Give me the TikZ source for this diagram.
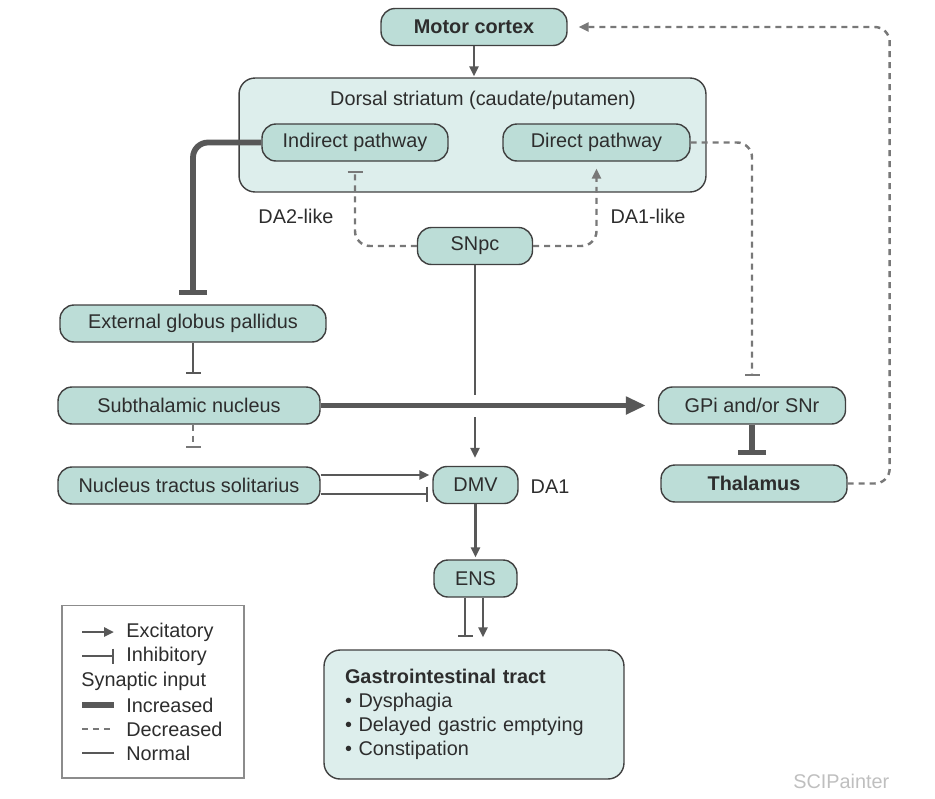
\documentclass[tikz,border=0pt]{standalone}
\usepackage{fontspec}
\setmainfont{Liberation Sans}
\usetikzlibrary{arrows.meta}

\definecolor{nodefill}{RGB}{188,221,215}
\definecolor{boxfill}{RGB}{221,238,236}
\definecolor{linegray}{RGB}{88,88,88}
\definecolor{dashgray}{RGB}{120,120,120}
\definecolor{textgray}{RGB}{45,45,45}

\tikzset{%
  region/.style={
    rectangle,
    rounded corners=0.28cm,
    draw=black!75,
    line width=0.8pt,
    fill=nodefill,
    minimum height=0.74cm,
    inner sep=0pt,
    text=textgray,
    font=\fontsize{11.3}{13.5}\selectfont
  },
  region bold/.style={
    region,
    font=\fontsize{11.3}{13.5}\selectfont\bfseries
  },
  plain text/.style={
    text=textgray,
    inner sep=0pt,
    font=\fontsize{11.3}{13.5}\selectfont
  },
  conn/.style={draw=linegray, line width=1.4pt},
  strong/.style={conn, line width=3.3pt},
  weak/.style={conn, draw=dashgray, dash pattern=on 0.12cm off 0.1cm},
  excite/.style={-{Triangle[length=0.2cm,width=0.18cm]}},
  inhibit/.style={-{Bar[width=0.3cm]}},
  excite big/.style={-{Triangle[length=0.4cm,width=0.34cm]}},
  inhibit big/.style={-{Bar[width=0.56cm]}},
}

\begin{document}
\begin{tikzpicture}[x=0.02cm, y=-0.02cm]
\useasboundingbox (0,0) rectangle (935,798);

% striatum container
\node[region, fill=boxfill, rounded corners=0.32cm, minimum width=9.34cm, minimum height=2.28cm] (striatum) at (472.5,135) {};
\node[plain text] (striatumtitle) at (483,100) {Dorsal striatum (caudate/putamen)};

% nodes
\node[region bold, minimum width=3.72cm] (motor) at (474,27) {Motor cortex};
\node[region, minimum width=3.72cm] (indirect) at (355,142.5) {Indirect pathway};
\node[region, minimum width=3.74cm] (direct) at (596.5,142.5) {Direct pathway};
\node[region, minimum width=2.3cm] (snpc) at (475,246) {SNpc};
\node[region, minimum width=5.32cm] (egp) at (193,323.5) {External globus pallidus};
\node[region, minimum width=5.24cm] (stn) at (189,405.5) {Subthalamic nucleus};
\node[region, minimum width=3.74cm] (gpi) at (752,405.5) {GPi and/or SNr};
\node[region bold, minimum width=3.72cm] (thal) at (754,483.5) {Thalamus};
\node[region, minimum width=5.24cm] (nts) at (189,485.5) {Nucleus tractus solitarius};
\node[region, minimum width=1.7cm] (dmv) at (475.5,485) {DMV};
\node[region, minimum width=1.66cm, minimum height=0.74cm] (ens) at (475.5,578.5) {ENS};
\node[region, fill=boxfill, rounded corners=0.32cm, minimum width=6cm, minimum height=2.58cm,
      align=left, text width=5.16cm] (gi) at (474,714.5)
  {\textbf{Gastrointestinal tract}\\[0.2pt]
   • Dysphagia\\[0.2pt]
   • Delayed gastric emptying\\[0.2pt]
   • Constipation};

% labels
\node[plain text] (da2) at (296,216) {DA2-like};
\node[plain text] (da1like) at (648,216) {DA1-like};
\node[plain text] (da1) at (550,487) {DA1};

% connectors
\draw[conn, excite, shorten >=0.02cm] (motor.south) -- (motor.south |- striatum.north);
\draw[strong, inhibit big, rounded corners=0.3cm, shorten >=0.18cm] (indirect.west) -| (egp.north);
\draw[weak, inhibit, rounded corners=0.3cm, shorten >=0.18cm] (snpc.west) -| (indirect.south);
\draw[weak, excite, rounded corners=0.3cm, shorten >=0.14cm] (snpc.east) -| (direct.south);
\draw[weak, inhibit, rounded corners=0.3cm, shorten >=0.2cm] (direct.east) -| (gpi.north);
\draw[strong, inhibit big, shorten >=0.18cm] (gpi.south) -- (gpi.south |- thal.north);
\draw[weak, excite, rounded corners=0.3cm, shorten >=0.22cm] (thal.east) -- ++(42,0) |- (motor.east);
\draw[conn, inhibit, shorten >=0.24cm] (egp.south) -- (egp.south |- stn.north);
\draw[weak, inhibit, shorten >=0.36cm] (egp.south |- stn.south) -- (egp.south |- nts.north);

% SNpc to DMV, broken where the thick line crosses
\coordinate (cross) at (snpc.south |- stn.east);
\draw[conn, excite, shorten >=0.16cm] (snpc.south) -- (snpc.south |- dmv.north);
\draw[white, line width=5pt] ([yshift=0.22cm]cross) -- ([yshift=-0.22cm]cross);
\draw[strong, excite big, shorten >=0.24cm] (stn.east) -- (gpi.west);

% NTS to DMV
\coordinate (ntsup) at ([yshift=0.21cm]nts.east);
\coordinate (ntsdown) at ([yshift=-0.17cm]nts.east);
\draw[conn, excite, shorten >=0.06cm] (ntsup) -- (ntsup -| dmv.west);
\draw[conn, inhibit, shorten >=0.08cm] (ntsdown) -- (ntsdown -| dmv.west);

% DMV to ENS to GI
\draw[conn, excite, shorten >=0.04cm] (dmv.south) -- (dmv.south |- ens.north);
\coordinate (ensleft) at ([xshift=-0.21cm]ens.south);
\coordinate (ensright) at ([xshift=0.15cm]ens.south);
\draw[conn, inhibit, shorten >=0.24cm] (ensleft) -- (ensleft |- gi.north);
\draw[conn, excite, shorten >=0.24cm] (ensright) -- (ensright |- gi.north);

% legend
\node[draw=black!45, line width=0.6pt, minimum width=3.64cm, minimum height=3.46cm] (legend) at (153,691.5) {};
\coordinate (lexc) at (82,632);
\coordinate (linh) at (82,656);
\coordinate (linc) at (82,705);
\coordinate (ldec) at (82,729);
\coordinate (lnor) at (82,753);
\draw[conn, excite] (lexc) -- ++(32,0);
\draw[conn, inhibit] (linh) -- ++(32,0);
\draw[strong] (linc) -- ++(32,0);
\draw[weak] (ldec) -- ++(32,0);
\draw[conn] (lnor) -- ++(32,0);
\node[plain text, anchor=west] (tlexc) at (126,632) {Excitatory};
\node[plain text, anchor=west] (tlinh) at (126,656) {Inhibitory};
\node[plain text, anchor=west] (tlsyn) at (81,681) {Synaptic input};
\node[plain text, anchor=west] (tlinc) at (126,705) {Increased};
\node[plain text, anchor=west] (tldec) at (126,729) {Decreased};
\node[plain text, anchor=west] (tlnor) at (126,753) {Normal};

% watermark
\node[plain text, text=black!25, anchor=west] (mark) at (793,781) {SCIPainter};
\end{tikzpicture}
\end{document}
